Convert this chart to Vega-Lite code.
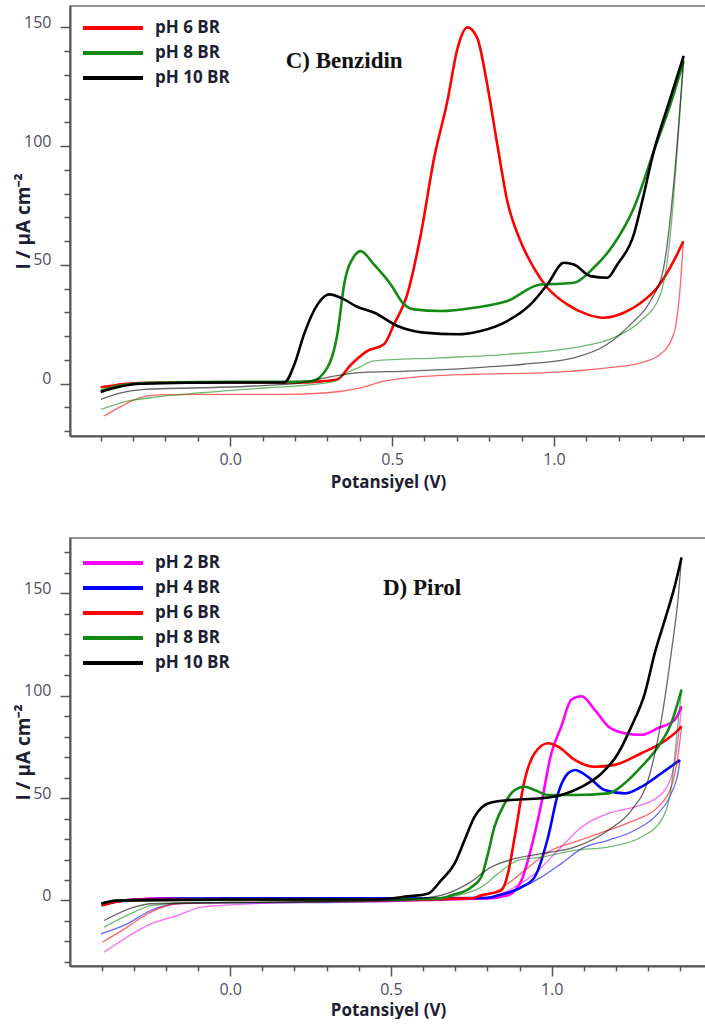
{
  "$schema": "https://vega.github.io/schema/vega-lite/v6.json",
  "padding": {"left": 13, "top": 5, "right": 0, "bottom": 0},
  "background": "white",
  "spacing": 46,
  "datasets": {
    "C": [
      {"pH": "pH 6 BR", "s": "f", "V": -0.40, "I": -1.5},
      {"pH": "pH 6 BR", "s": "f", "V": -0.35, "I": -0.5},
      {"pH": "pH 6 BR", "s": "f", "V": -0.30, "I": 0.2},
      {"pH": "pH 6 BR", "s": "f", "V": -0.20, "I": 0.5},
      {"pH": "pH 6 BR", "s": "f", "V": 0.00, "I": 0.5},
      {"pH": "pH 6 BR", "s": "f", "V": 0.20, "I": 0.5},
      {"pH": "pH 6 BR", "s": "f", "V": 0.28, "I": 1.0},
      {"pH": "pH 6 BR", "s": "f", "V": 0.33, "I": 1.8},
      {"pH": "pH 6 BR", "s": "f", "V": 0.373, "I": 8.0},
      {"pH": "pH 6 BR", "s": "f", "V": 0.424, "I": 13.8},
      {"pH": "pH 6 BR", "s": "f", "V": 0.475, "I": 16.6},
      {"pH": "pH 6 BR", "s": "f", "V": 0.506, "I": 25.0},
      {"pH": "pH 6 BR", "s": "f", "V": 0.547, "I": 37.6},
      {"pH": "pH 6 BR", "s": "f", "V": 0.589, "I": 62.9},
      {"pH": "pH 6 BR", "s": "f", "V": 0.630, "I": 95.0},
      {"pH": "pH 6 BR", "s": "f", "V": 0.671, "I": 119.0},
      {"pH": "pH 6 BR", "s": "f", "V": 0.702, "I": 141.0},
      {"pH": "pH 6 BR", "s": "f", "V": 0.733, "I": 150.0},
      {"pH": "pH 6 BR", "s": "f", "V": 0.763, "I": 145.6},
      {"pH": "pH 6 BR", "s": "f", "V": 0.794, "I": 126.0},
      {"pH": "pH 6 BR", "s": "f", "V": 0.825, "I": 100.8},
      {"pH": "pH 6 BR", "s": "f", "V": 0.856, "I": 76.9},
      {"pH": "pH 6 BR", "s": "f", "V": 0.897, "I": 60.0},
      {"pH": "pH 6 BR", "s": "f", "V": 0.938, "I": 48.8},
      {"pH": "pH 6 BR", "s": "f", "V": 0.980, "I": 40.4},
      {"pH": "pH 6 BR", "s": "f", "V": 1.041, "I": 33.4},
      {"pH": "pH 6 BR", "s": "f", "V": 1.103, "I": 29.2},
      {"pH": "pH 6 BR", "s": "f", "V": 1.154, "I": 27.8},
      {"pH": "pH 6 BR", "s": "f", "V": 1.216, "I": 29.9},
      {"pH": "pH 6 BR", "s": "f", "V": 1.268, "I": 34.0},
      {"pH": "pH 6 BR", "s": "f", "V": 1.319, "I": 40.4},
      {"pH": "pH 6 BR", "s": "f", "V": 1.370, "I": 51.6},
      {"pH": "pH 6 BR", "s": "f", "V": 1.400, "I": 60.0},
      {"pH": "pH 6 BR", "s": "r", "V": 1.400, "I": 60.0},
      {"pH": "pH 6 BR", "s": "r", "V": 1.391, "I": 42.0},
      {"pH": "pH 6 BR", "s": "r", "V": 1.370, "I": 20.8},
      {"pH": "pH 6 BR", "s": "r", "V": 1.329, "I": 12.4},
      {"pH": "pH 6 BR", "s": "r", "V": 1.268, "I": 8.8},
      {"pH": "pH 6 BR", "s": "r", "V": 1.165, "I": 6.7},
      {"pH": "pH 6 BR", "s": "r", "V": 0.959, "I": 4.6},
      {"pH": "pH 6 BR", "s": "r", "V": 0.753, "I": 4.0},
      {"pH": "pH 6 BR", "s": "r", "V": 0.547, "I": 2.5},
      {"pH": "pH 6 BR", "s": "r", "V": 0.475, "I": 1.1},
      {"pH": "pH 6 BR", "s": "r", "V": 0.403, "I": -1.7},
      {"pH": "pH 6 BR", "s": "r", "V": 0.30, "I": -3.8},
      {"pH": "pH 6 BR", "s": "r", "V": 0.167, "I": -4.5},
      {"pH": "pH 6 BR", "s": "r", "V": 0.012, "I": -4.5},
      {"pH": "pH 6 BR", "s": "r", "V": -0.193, "I": -4.6},
      {"pH": "pH 6 BR", "s": "r", "V": -0.25, "I": -5.0},
      {"pH": "pH 6 BR", "s": "r", "V": -0.30, "I": -7.0},
      {"pH": "pH 6 BR", "s": "r", "V": -0.35, "I": -10.5},
      {"pH": "pH 6 BR", "s": "r", "V": -0.389, "I": -13.6},
      {"pH": "pH 8 BR", "s": "f", "V": -0.40, "I": -3.0},
      {"pH": "pH 8 BR", "s": "f", "V": -0.35, "I": -1.0},
      {"pH": "pH 8 BR", "s": "f", "V": -0.30, "I": 0.0},
      {"pH": "pH 8 BR", "s": "f", "V": -0.20, "I": 0.5},
      {"pH": "pH 8 BR", "s": "f", "V": 0.00, "I": 0.8},
      {"pH": "pH 8 BR", "s": "f", "V": 0.20, "I": 0.8},
      {"pH": "pH 8 BR", "s": "f", "V": 0.249, "I": 1.0},
      {"pH": "pH 8 BR", "s": "f", "V": 0.30, "I": 6.7},
      {"pH": "pH 8 BR", "s": "f", "V": 0.331, "I": 20.8},
      {"pH": "pH 8 BR", "s": "f", "V": 0.352, "I": 41.8},
      {"pH": "pH 8 BR", "s": "f", "V": 0.383, "I": 53.7},
      {"pH": "pH 8 BR", "s": "f", "V": 0.403, "I": 55.8},
      {"pH": "pH 8 BR", "s": "f", "V": 0.444, "I": 50.2},
      {"pH": "pH 8 BR", "s": "f", "V": 0.496, "I": 41.8},
      {"pH": "pH 8 BR", "s": "f", "V": 0.537, "I": 33.4},
      {"pH": "pH 8 BR", "s": "f", "V": 0.568, "I": 31.3},
      {"pH": "pH 8 BR", "s": "f", "V": 0.650, "I": 30.6},
      {"pH": "pH 8 BR", "s": "f", "V": 0.753, "I": 32.0},
      {"pH": "pH 8 BR", "s": "f", "V": 0.856, "I": 34.8},
      {"pH": "pH 8 BR", "s": "f", "V": 0.959, "I": 41.8},
      {"pH": "pH 8 BR", "s": "f", "V": 1.010, "I": 42.0},
      {"pH": "pH 8 BR", "s": "f", "V": 1.062, "I": 42.5},
      {"pH": "pH 8 BR", "s": "f", "V": 1.123, "I": 48.8},
      {"pH": "pH 8 BR", "s": "f", "V": 1.185, "I": 58.7},
      {"pH": "pH 8 BR", "s": "f", "V": 1.247, "I": 74.0},
      {"pH": "pH 8 BR", "s": "f", "V": 1.309, "I": 98.0},
      {"pH": "pH 8 BR", "s": "f", "V": 1.360, "I": 117.6},
      {"pH": "pH 8 BR", "s": "f", "V": 1.401, "I": 135.8},
      {"pH": "pH 8 BR", "s": "r", "V": 1.401, "I": 135.8},
      {"pH": "pH 8 BR", "s": "r", "V": 1.381, "I": 98.0},
      {"pH": "pH 8 BR", "s": "r", "V": 1.360, "I": 62.9},
      {"pH": "pH 8 BR", "s": "r", "V": 1.329, "I": 37.6},
      {"pH": "pH 8 BR", "s": "r", "V": 1.268, "I": 26.4},
      {"pH": "pH 8 BR", "s": "r", "V": 1.185, "I": 19.4},
      {"pH": "pH 8 BR", "s": "r", "V": 1.062, "I": 15.2},
      {"pH": "pH 8 BR", "s": "r", "V": 0.856, "I": 12.4},
      {"pH": "pH 8 BR", "s": "r", "V": 0.650, "I": 10.9},
      {"pH": "pH 8 BR", "s": "r", "V": 0.444, "I": 9.6},
      {"pH": "pH 8 BR", "s": "r", "V": 0.400, "I": 7.0},
      {"pH": "pH 8 BR", "s": "r", "V": 0.360, "I": 4.5},
      {"pH": "pH 8 BR", "s": "r", "V": 0.321, "I": 1.0},
      {"pH": "pH 8 BR", "s": "r", "V": 0.200, "I": -1.0},
      {"pH": "pH 8 BR", "s": "r", "V": 0.115, "I": -1.7},
      {"pH": "pH 8 BR", "s": "r", "V": -0.09, "I": -3.8},
      {"pH": "pH 8 BR", "s": "r", "V": -0.245, "I": -5.9},
      {"pH": "pH 8 BR", "s": "r", "V": -0.317, "I": -7.3},
      {"pH": "pH 8 BR", "s": "r", "V": -0.399, "I": -10.8},
      {"pH": "pH 10 BR", "s": "f", "V": -0.40, "I": -3.5},
      {"pH": "pH 10 BR", "s": "f", "V": -0.35, "I": -1.5},
      {"pH": "pH 10 BR", "s": "f", "V": -0.275, "I": 0.0},
      {"pH": "pH 10 BR", "s": "f", "V": 0.00, "I": 0.5},
      {"pH": "pH 10 BR", "s": "f", "V": 0.167, "I": 0.5},
      {"pH": "pH 10 BR", "s": "f", "V": 0.198, "I": 8.0},
      {"pH": "pH 10 BR", "s": "f", "V": 0.228, "I": 20.8},
      {"pH": "pH 10 BR", "s": "f", "V": 0.270, "I": 33.4},
      {"pH": "pH 10 BR", "s": "f", "V": 0.306, "I": 37.6},
      {"pH": "pH 10 BR", "s": "f", "V": 0.352, "I": 35.5},
      {"pH": "pH 10 BR", "s": "f", "V": 0.390, "I": 32.5},
      {"pH": "pH 10 BR", "s": "f", "V": 0.444, "I": 30.0},
      {"pH": "pH 10 BR", "s": "f", "V": 0.517, "I": 24.3},
      {"pH": "pH 10 BR", "s": "f", "V": 0.599, "I": 21.5},
      {"pH": "pH 10 BR", "s": "f", "V": 0.702, "I": 20.8},
      {"pH": "pH 10 BR", "s": "f", "V": 0.774, "I": 22.2},
      {"pH": "pH 10 BR", "s": "f", "V": 0.856, "I": 26.4},
      {"pH": "pH 10 BR", "s": "f", "V": 0.928, "I": 33.4},
      {"pH": "pH 10 BR", "s": "f", "V": 0.980, "I": 41.8},
      {"pH": "pH 10 BR", "s": "f", "V": 1.031, "I": 50.9},
      {"pH": "pH 10 BR", "s": "f", "V": 1.062, "I": 50.2},
      {"pH": "pH 10 BR", "s": "f", "V": 1.113, "I": 45.3},
      {"pH": "pH 10 BR", "s": "f", "V": 1.165, "I": 44.6},
      {"pH": "pH 10 BR", "s": "f", "V": 1.196, "I": 50.2},
      {"pH": "pH 10 BR", "s": "f", "V": 1.247, "I": 62.9},
      {"pH": "pH 10 BR", "s": "f", "V": 1.273, "I": 76.9},
      {"pH": "pH 10 BR", "s": "f", "V": 1.309, "I": 98.0},
      {"pH": "pH 10 BR", "s": "f", "V": 1.350, "I": 116.0},
      {"pH": "pH 10 BR", "s": "f", "V": 1.401, "I": 138.0},
      {"pH": "pH 10 BR", "s": "r", "V": 1.401, "I": 138.0},
      {"pH": "pH 10 BR", "s": "r", "V": 1.391, "I": 119.0},
      {"pH": "pH 10 BR", "s": "r", "V": 1.370, "I": 83.9},
      {"pH": "pH 10 BR", "s": "r", "V": 1.339, "I": 48.8},
      {"pH": "pH 10 BR", "s": "r", "V": 1.298, "I": 34.8},
      {"pH": "pH 10 BR", "s": "r", "V": 1.237, "I": 25.0},
      {"pH": "pH 10 BR", "s": "r", "V": 1.165, "I": 16.6},
      {"pH": "pH 10 BR", "s": "r", "V": 1.062, "I": 10.9},
      {"pH": "pH 10 BR", "s": "r", "V": 0.907, "I": 8.2},
      {"pH": "pH 10 BR", "s": "r", "V": 0.753, "I": 6.7},
      {"pH": "pH 10 BR", "s": "r", "V": 0.547, "I": 5.3},
      {"pH": "pH 10 BR", "s": "r", "V": 0.393, "I": 4.6},
      {"pH": "pH 10 BR", "s": "r", "V": 0.321, "I": 3.2},
      {"pH": "pH 10 BR", "s": "r", "V": 0.219, "I": 0.4},
      {"pH": "pH 10 BR", "s": "r", "V": 0.10, "I": -0.8},
      {"pH": "pH 10 BR", "s": "r", "V": -0.09, "I": -1.7},
      {"pH": "pH 10 BR", "s": "r", "V": -0.265, "I": -2.4},
      {"pH": "pH 10 BR", "s": "r", "V": -0.348, "I": -4.2},
      {"pH": "pH 10 BR", "s": "r", "V": -0.399, "I": -6.6}
    ],
    "D": [
      {"pH": "pH 2 BR", "s": "f", "V": -0.40, "I": -2.0},
      {"pH": "pH 2 BR", "s": "f", "V": -0.35, "I": -0.5},
      {"pH": "pH 2 BR", "s": "f", "V": -0.30, "I": 0.3},
      {"pH": "pH 2 BR", "s": "f", "V": -0.20, "I": 1.0},
      {"pH": "pH 2 BR", "s": "f", "V": 0.00, "I": 0.5},
      {"pH": "pH 2 BR", "s": "f", "V": 0.50, "I": 0.5},
      {"pH": "pH 2 BR", "s": "f", "V": 0.80, "I": 1.0},
      {"pH": "pH 2 BR", "s": "f", "V": 0.864, "I": 2.5},
      {"pH": "pH 2 BR", "s": "f", "V": 0.906, "I": 9.8},
      {"pH": "pH 2 BR", "s": "f", "V": 0.937, "I": 26.0},
      {"pH": "pH 2 BR", "s": "f", "V": 0.968, "I": 47.4},
      {"pH": "pH 2 BR", "s": "f", "V": 0.999, "I": 71.9},
      {"pH": "pH 2 BR", "s": "f", "V": 1.030, "I": 85.0},
      {"pH": "pH 2 BR", "s": "f", "V": 1.061, "I": 98.0},
      {"pH": "pH 2 BR", "s": "f", "V": 1.093, "I": 99.7},
      {"pH": "pH 2 BR", "s": "f", "V": 1.134, "I": 93.1},
      {"pH": "pH 2 BR", "s": "f", "V": 1.176, "I": 85.0},
      {"pH": "pH 2 BR", "s": "f", "V": 1.227, "I": 81.7},
      {"pH": "pH 2 BR", "s": "f", "V": 1.279, "I": 80.9},
      {"pH": "pH 2 BR", "s": "f", "V": 1.331, "I": 84.2},
      {"pH": "pH 2 BR", "s": "f", "V": 1.383, "I": 88.2},
      {"pH": "pH 2 BR", "s": "f", "V": 1.404, "I": 94.8},
      {"pH": "pH 2 BR", "s": "r", "V": 1.404, "I": 94.8},
      {"pH": "pH 2 BR", "s": "r", "V": 1.394, "I": 80.0},
      {"pH": "pH 2 BR", "s": "r", "V": 1.372, "I": 60.4},
      {"pH": "pH 2 BR", "s": "r", "V": 1.331, "I": 50.6},
      {"pH": "pH 2 BR", "s": "r", "V": 1.259, "I": 45.7},
      {"pH": "pH 2 BR", "s": "r", "V": 1.176, "I": 42.5},
      {"pH": "pH 2 BR", "s": "r", "V": 1.093, "I": 35.9},
      {"pH": "pH 2 BR", "s": "r", "V": 1.020, "I": 24.5},
      {"pH": "pH 2 BR", "s": "r", "V": 0.947, "I": 13.1},
      {"pH": "pH 2 BR", "s": "r", "V": 0.885, "I": 6.5},
      {"pH": "pH 2 BR", "s": "r", "V": 0.833, "I": 2.5},
      {"pH": "pH 2 BR", "s": "r", "V": 0.75, "I": 0.5},
      {"pH": "pH 2 BR", "s": "r", "V": 0.50, "I": -0.5},
      {"pH": "pH 2 BR", "s": "r", "V": 0.20, "I": -1.0},
      {"pH": "pH 2 BR", "s": "r", "V": 0.013, "I": -2.0},
      {"pH": "pH 2 BR", "s": "r", "V": -0.091, "I": -3.3},
      {"pH": "pH 2 BR", "s": "r", "V": -0.164, "I": -7.4},
      {"pH": "pH 2 BR", "s": "r", "V": -0.247, "I": -11.4},
      {"pH": "pH 2 BR", "s": "r", "V": -0.330, "I": -18.8},
      {"pH": "pH 2 BR", "s": "r", "V": -0.392, "I": -25.3},
      {"pH": "pH 4 BR", "s": "f", "V": -0.40, "I": -2.0},
      {"pH": "pH 4 BR", "s": "f", "V": -0.35, "I": -0.5},
      {"pH": "pH 4 BR", "s": "f", "V": -0.30, "I": 0.5},
      {"pH": "pH 4 BR", "s": "f", "V": 0.00, "I": 1.0},
      {"pH": "pH 4 BR", "s": "f", "V": 0.50, "I": 1.0},
      {"pH": "pH 4 BR", "s": "f", "V": 0.80, "I": 1.2},
      {"pH": "pH 4 BR", "s": "f", "V": 0.833, "I": 2.5},
      {"pH": "pH 4 BR", "s": "f", "V": 0.906, "I": 6.5},
      {"pH": "pH 4 BR", "s": "f", "V": 0.947, "I": 11.4},
      {"pH": "pH 4 BR", "s": "f", "V": 0.989, "I": 31.0},
      {"pH": "pH 4 BR", "s": "f", "V": 1.020, "I": 52.3},
      {"pH": "pH 4 BR", "s": "f", "V": 1.051, "I": 62.1},
      {"pH": "pH 4 BR", "s": "f", "V": 1.072, "I": 63.7},
      {"pH": "pH 4 BR", "s": "f", "V": 1.113, "I": 60.4},
      {"pH": "pH 4 BR", "s": "f", "V": 1.165, "I": 53.9},
      {"pH": "pH 4 BR", "s": "f", "V": 1.227, "I": 52.3},
      {"pH": "pH 4 BR", "s": "f", "V": 1.279, "I": 55.5},
      {"pH": "pH 4 BR", "s": "f", "V": 1.341, "I": 62.1},
      {"pH": "pH 4 BR", "s": "f", "V": 1.399, "I": 68.6},
      {"pH": "pH 4 BR", "s": "r", "V": 1.399, "I": 68.6},
      {"pH": "pH 4 BR", "s": "r", "V": 1.395, "I": 64.0},
      {"pH": "pH 4 BR", "s": "r", "V": 1.372, "I": 52.3},
      {"pH": "pH 4 BR", "s": "r", "V": 1.331, "I": 42.5},
      {"pH": "pH 4 BR", "s": "r", "V": 1.259, "I": 34.3},
      {"pH": "pH 4 BR", "s": "r", "V": 1.176, "I": 29.4},
      {"pH": "pH 4 BR", "s": "r", "V": 1.093, "I": 25.3},
      {"pH": "pH 4 BR", "s": "r", "V": 1.030, "I": 18.0},
      {"pH": "pH 4 BR", "s": "r", "V": 0.968, "I": 11.4},
      {"pH": "pH 4 BR", "s": "r", "V": 0.885, "I": 4.9},
      {"pH": "pH 4 BR", "s": "r", "V": 0.82, "I": 2.0},
      {"pH": "pH 4 BR", "s": "r", "V": 0.60, "I": 0.0},
      {"pH": "pH 4 BR", "s": "r", "V": 0.30, "I": -1.0},
      {"pH": "pH 4 BR", "s": "r", "V": 0.00, "I": -1.2},
      {"pH": "pH 4 BR", "s": "r", "V": -0.164, "I": -1.6},
      {"pH": "pH 4 BR", "s": "r", "V": -0.247, "I": -4.9},
      {"pH": "pH 4 BR", "s": "r", "V": -0.320, "I": -11.4},
      {"pH": "pH 4 BR", "s": "r", "V": -0.402, "I": -16.3},
      {"pH": "pH 6 BR", "s": "f", "V": -0.40, "I": -2.5},
      {"pH": "pH 6 BR", "s": "f", "V": -0.35, "I": -0.5},
      {"pH": "pH 6 BR", "s": "f", "V": -0.30, "I": 0.3},
      {"pH": "pH 6 BR", "s": "f", "V": 0.00, "I": 0.5},
      {"pH": "pH 6 BR", "s": "f", "V": 0.50, "I": 0.5},
      {"pH": "pH 6 BR", "s": "f", "V": 0.75, "I": 1.0},
      {"pH": "pH 6 BR", "s": "f", "V": 0.781, "I": 2.5},
      {"pH": "pH 6 BR", "s": "f", "V": 0.843, "I": 4.9},
      {"pH": "pH 6 BR", "s": "f", "V": 0.864, "I": 13.1},
      {"pH": "pH 6 BR", "s": "f", "V": 0.885, "I": 31.0},
      {"pH": "pH 6 BR", "s": "f", "V": 0.916, "I": 58.8},
      {"pH": "pH 6 BR", "s": "f", "V": 0.947, "I": 71.9},
      {"pH": "pH 6 BR", "s": "f", "V": 0.989, "I": 76.8},
      {"pH": "pH 6 BR", "s": "f", "V": 1.020, "I": 75.1},
      {"pH": "pH 6 BR", "s": "f", "V": 1.072, "I": 68.6},
      {"pH": "pH 6 BR", "s": "f", "V": 1.134, "I": 65.3},
      {"pH": "pH 6 BR", "s": "f", "V": 1.196, "I": 66.2},
      {"pH": "pH 6 BR", "s": "f", "V": 1.279, "I": 71.9},
      {"pH": "pH 6 BR", "s": "f", "V": 1.341, "I": 76.8},
      {"pH": "pH 6 BR", "s": "f", "V": 1.394, "I": 83.3},
      {"pH": "pH 6 BR", "s": "f", "V": 1.404, "I": 85.0},
      {"pH": "pH 6 BR", "s": "r", "V": 1.404, "I": 85.0},
      {"pH": "pH 6 BR", "s": "r", "V": 1.394, "I": 71.9},
      {"pH": "pH 6 BR", "s": "r", "V": 1.372, "I": 55.5},
      {"pH": "pH 6 BR", "s": "r", "V": 1.331, "I": 45.7},
      {"pH": "pH 6 BR", "s": "r", "V": 1.259, "I": 39.2},
      {"pH": "pH 6 BR", "s": "r", "V": 1.176, "I": 34.3},
      {"pH": "pH 6 BR", "s": "r", "V": 1.072, "I": 28.6},
      {"pH": "pH 6 BR", "s": "r", "V": 0.999, "I": 24.5},
      {"pH": "pH 6 BR", "s": "r", "V": 0.916, "I": 14.7},
      {"pH": "pH 6 BR", "s": "r", "V": 0.864, "I": 8.2},
      {"pH": "pH 6 BR", "s": "r", "V": 0.812, "I": 3.3},
      {"pH": "pH 6 BR", "s": "r", "V": 0.70, "I": 0.5},
      {"pH": "pH 6 BR", "s": "r", "V": 0.40, "I": -0.5},
      {"pH": "pH 6 BR", "s": "r", "V": 0.00, "I": -1.0},
      {"pH": "pH 6 BR", "s": "r", "V": -0.164, "I": -1.6},
      {"pH": "pH 6 BR", "s": "r", "V": -0.247, "I": -5.7},
      {"pH": "pH 6 BR", "s": "r", "V": -0.320, "I": -13.0},
      {"pH": "pH 6 BR", "s": "r", "V": -0.397, "I": -20.4},
      {"pH": "pH 8 BR", "s": "f", "V": -0.40, "I": -1.5},
      {"pH": "pH 8 BR", "s": "f", "V": -0.35, "I": 0.0},
      {"pH": "pH 8 BR", "s": "f", "V": 0.00, "I": 0.5},
      {"pH": "pH 8 BR", "s": "f", "V": 0.50, "I": 0.5},
      {"pH": "pH 8 BR", "s": "f", "V": 0.65, "I": 1.0},
      {"pH": "pH 8 BR", "s": "f", "V": 0.688, "I": 2.5},
      {"pH": "pH 8 BR", "s": "f", "V": 0.750, "I": 6.5},
      {"pH": "pH 8 BR", "s": "f", "V": 0.781, "I": 11.4},
      {"pH": "pH 8 BR", "s": "f", "V": 0.802, "I": 22.9},
      {"pH": "pH 8 BR", "s": "f", "V": 0.822, "I": 35.9},
      {"pH": "pH 8 BR", "s": "f", "V": 0.854, "I": 47.4},
      {"pH": "pH 8 BR", "s": "f", "V": 0.885, "I": 53.9},
      {"pH": "pH 8 BR", "s": "f", "V": 0.916, "I": 55.5},
      {"pH": "pH 8 BR", "s": "f", "V": 0.947, "I": 53.9},
      {"pH": "pH 8 BR", "s": "f", "V": 0.989, "I": 51.5},
      {"pH": "pH 8 BR", "s": "f", "V": 1.072, "I": 51.5},
      {"pH": "pH 8 BR", "s": "f", "V": 1.176, "I": 52.3},
      {"pH": "pH 8 BR", "s": "f", "V": 1.227, "I": 57.2},
      {"pH": "pH 8 BR", "s": "f", "V": 1.279, "I": 65.3},
      {"pH": "pH 8 BR", "s": "f", "V": 1.331, "I": 75.1},
      {"pH": "pH 8 BR", "s": "f", "V": 1.372, "I": 86.6},
      {"pH": "pH 8 BR", "s": "f", "V": 1.404, "I": 103.0},
      {"pH": "pH 8 BR", "s": "r", "V": 1.404, "I": 103.0},
      {"pH": "pH 8 BR", "s": "r", "V": 1.394, "I": 88.2},
      {"pH": "pH 8 BR", "s": "r", "V": 1.372, "I": 55.5},
      {"pH": "pH 8 BR", "s": "r", "V": 1.341, "I": 39.2},
      {"pH": "pH 8 BR", "s": "r", "V": 1.279, "I": 31.0},
      {"pH": "pH 8 BR", "s": "r", "V": 1.176, "I": 26.1},
      {"pH": "pH 8 BR", "s": "r", "V": 1.072, "I": 24.5},
      {"pH": "pH 8 BR", "s": "r", "V": 0.968, "I": 21.2},
      {"pH": "pH 8 BR", "s": "r", "V": 0.895, "I": 19.6},
      {"pH": "pH 8 BR", "s": "r", "V": 0.833, "I": 13.1},
      {"pH": "pH 8 BR", "s": "r", "V": 0.781, "I": 6.5},
      {"pH": "pH 8 BR", "s": "r", "V": 0.708, "I": 2.5},
      {"pH": "pH 8 BR", "s": "r", "V": 0.60, "I": 0.5},
      {"pH": "pH 8 BR", "s": "r", "V": 0.30, "I": -0.5},
      {"pH": "pH 8 BR", "s": "r", "V": 0.00, "I": -1.0},
      {"pH": "pH 8 BR", "s": "r", "V": -0.09, "I": -0.8},
      {"pH": "pH 8 BR", "s": "r", "V": -0.247, "I": -2.5},
      {"pH": "pH 8 BR", "s": "r", "V": -0.299, "I": -5.7},
      {"pH": "pH 8 BR", "s": "r", "V": -0.392, "I": -13.0},
      {"pH": "pH 10 BR", "s": "f", "V": -0.40, "I": -1.5},
      {"pH": "pH 10 BR", "s": "f", "V": -0.35, "I": 0.0},
      {"pH": "pH 10 BR", "s": "f", "V": 0.00, "I": 0.5},
      {"pH": "pH 10 BR", "s": "f", "V": 0.45, "I": 0.5},
      {"pH": "pH 10 BR", "s": "f", "V": 0.553, "I": 2.0},
      {"pH": "pH 10 BR", "s": "f", "V": 0.615, "I": 3.3},
      {"pH": "pH 10 BR", "s": "f", "V": 0.656, "I": 9.8},
      {"pH": "pH 10 BR", "s": "f", "V": 0.698, "I": 18.0},
      {"pH": "pH 10 BR", "s": "f", "V": 0.729, "I": 29.4},
      {"pH": "pH 10 BR", "s": "f", "V": 0.760, "I": 40.8},
      {"pH": "pH 10 BR", "s": "f", "V": 0.802, "I": 47.4},
      {"pH": "pH 10 BR", "s": "f", "V": 0.864, "I": 49.0},
      {"pH": "pH 10 BR", "s": "f", "V": 0.968, "I": 49.9},
      {"pH": "pH 10 BR", "s": "f", "V": 1.030, "I": 51.5},
      {"pH": "pH 10 BR", "s": "f", "V": 1.093, "I": 55.5},
      {"pH": "pH 10 BR", "s": "f", "V": 1.155, "I": 62.0},
      {"pH": "pH 10 BR", "s": "f", "V": 1.207, "I": 71.9},
      {"pH": "pH 10 BR", "s": "f", "V": 1.248, "I": 85.0},
      {"pH": "pH 10 BR", "s": "f", "V": 1.290, "I": 101.3},
      {"pH": "pH 10 BR", "s": "f", "V": 1.321, "I": 121.0},
      {"pH": "pH 10 BR", "s": "f", "V": 1.352, "I": 137.0},
      {"pH": "pH 10 BR", "s": "f", "V": 1.383, "I": 153.6},
      {"pH": "pH 10 BR", "s": "f", "V": 1.404, "I": 167.5},
      {"pH": "pH 10 BR", "s": "r", "V": 1.404, "I": 167.5},
      {"pH": "pH 10 BR", "s": "r", "V": 1.394, "I": 148.7},
      {"pH": "pH 10 BR", "s": "r", "V": 1.372, "I": 121.0},
      {"pH": "pH 10 BR", "s": "r", "V": 1.341, "I": 88.0},
      {"pH": "pH 10 BR", "s": "r", "V": 1.300, "I": 58.8},
      {"pH": "pH 10 BR", "s": "r", "V": 1.248, "I": 44.0},
      {"pH": "pH 10 BR", "s": "r", "V": 1.176, "I": 34.3},
      {"pH": "pH 10 BR", "s": "r", "V": 1.072, "I": 26.0},
      {"pH": "pH 10 BR", "s": "r", "V": 0.968, "I": 22.9},
      {"pH": "pH 10 BR", "s": "r", "V": 0.885, "I": 20.4},
      {"pH": "pH 10 BR", "s": "r", "V": 0.812, "I": 16.3},
      {"pH": "pH 10 BR", "s": "r", "V": 0.740, "I": 8.2},
      {"pH": "pH 10 BR", "s": "r", "V": 0.656, "I": 2.5},
      {"pH": "pH 10 BR", "s": "r", "V": 0.55, "I": 0.5},
      {"pH": "pH 10 BR", "s": "r", "V": 0.30, "I": -0.5},
      {"pH": "pH 10 BR", "s": "r", "V": 0.00, "I": -1.0},
      {"pH": "pH 10 BR", "s": "r", "V": -0.247, "I": -1.6},
      {"pH": "pH 10 BR", "s": "r", "V": -0.299, "I": -3.3},
      {"pH": "pH 10 BR", "s": "r", "V": -0.392, "I": -9.8}
    ]
  },
  "config": {
    "font": "Open Sans",
    "view": {"stroke": "#707070", "strokeWidth": 1.5},
    "axis": {
      "grid": false,
      "labelOverlap": false,
      "domainColor": "#555555",
      "domainWidth": 2,
      "tickColor": "#555555",
      "tickWidth": 1.5,
      "labelFont": "Open Sans",
      "labelFontSize": 16,
      "labelColor": "#4d5068",
      "titleFont": "Open Sans",
      "titleFontWeight": "bold",
      "titleFontSize": 17,
      "titleColor": "#1c1f33"
    },
    "legend": {
      "orient": "none",
      "symbolType": "M-3,0H3",
      "symbolSize": 400,
      "symbolStrokeWidth": 4,
      "labelFont": "Open Sans",
      "labelFontWeight": "bold",
      "labelFontSize": 17,
      "labelColor": "#1c1f33",
      "labelOffset": 30,
      "rowPadding": 5
    }
  },
  "resolve": {
    "scale": {"color": "independent", "x": "independent", "y": "independent"},
    "legend": {"color": "independent"}
  },
  "vconcat": [
    {
      "width": 636,
      "height": 430,
      "encoding": {
        "x": {"field": "V", "type": "quantitative",
          "scale": {"domain": [-0.495, 1.47], "nice": false, "zero": false},
          "axis": {
            "title": "Potansiyel (V)",
            "labelOverlap": false,
            "values": [-0.4, -0.3, -0.2, -0.1, 0, 0.1, 0.2, 0.3, 0.4, 0.5, 0.6, 0.7, 0.8, 0.9, 1.0, 1.1, 1.2, 1.3, 1.4],
            "labelExpr": "abs(datum.value*2 - round(datum.value*2)) < 0.001 ? format(datum.value, '.1f') : ''",
            "tickSize": {"condition": {"test": "abs(datum.value*2 - round(datum.value*2)) < 0.001", "value": 10}, "value": 5},
            "labelPadding": 5,
            "titleY": 38,
            "titleBaseline": "top"
          }},
        "y": {"field": "I", "type": "quantitative",
          "scale": {"domain": [-22, 159], "nice": false, "zero": false},
          "axis": {
            "title": "I / μA cm⁻²",
            "titleFontSize": 19,
            "labelOverlap": false,
            "values": [-20, -10, 0, 10, 20, 30, 40, 50, 60, 70, 80, 90, 100, 110, 120, 130, 140, 150],
            "labelExpr": "datum.value % 50 === 0 ? datum.label : ''",
            "tickSize": {"condition": {"test": "datum.value % 50 === 0", "value": 10}, "value": 6},
            "labelPadding": 9,
            "labelBaseline": "alphabetic",
            "titleX": -37
          }}
      },
      "layer": [
        {
          "data": {"name": "C"},
          "mark": {"type": "line", "interpolate": "monotone"},
          "encoding": {
            "color": {"field": "pH", "type": "nominal",
              "scale": {"domain": ["pH 6 BR", "pH 8 BR", "pH 10 BR"], "range": ["#ff0000", "#138a13", "#000000"]},
              "legend": {"title": null, "legendX": 31, "legendY": 10}},
            "detail": {"field": "s"},
            "strokeWidth": {"field": "s", "type": "nominal", "scale": {"domain": ["f", "r"], "range": [2.6, 1.3]}, "legend": null},
            "opacity": {"field": "s", "type": "nominal", "scale": {"domain": ["f", "r"], "range": [1, 0.6]}, "legend": null}
          }
        },
        {
          "data": {"values": [{"V": 0.352, "I": 135.8, "t": "C) Benzidin"}]},
          "mark": {"type": "text", "font": "Liberation Serif", "fontWeight": "bold", "fontSize": 23, "color": "#111111", "align": "center", "baseline": "middle"},
          "encoding": {
            "text": {"field": "t"}
          }
        }
      ]
    },
    {
      "width": 636,
      "height": 428,
      "encoding": {
        "x": {"field": "V", "type": "quantitative",
          "scale": {"domain": [-0.498, 1.48], "nice": false, "zero": false},
          "axis": {
            "title": "Potansiyel (V)",
            "labelOverlap": false,
            "values": [-0.4, -0.3, -0.2, -0.1, 0, 0.1, 0.2, 0.3, 0.4, 0.5, 0.6, 0.7, 0.8, 0.9, 1.0, 1.1, 1.2, 1.3, 1.4],
            "labelExpr": "abs(datum.value*2 - round(datum.value*2)) < 0.001 ? format(datum.value, '.1f') : ''",
            "tickSize": {"condition": {"test": "abs(datum.value*2 - round(datum.value*2)) < 0.001", "value": 10}, "value": 5},
            "labelPadding": 5,
            "titleY": 36,
            "titleBaseline": "top"
          }},
        "y": {"field": "I", "type": "quantitative",
          "scale": {"domain": [-32, 177], "nice": false, "zero": false},
          "axis": {
            "title": "I / μA cm⁻²",
            "titleFontSize": 19,
            "labelOverlap": false,
            "values": [-30, -20, -10, 0, 10, 20, 30, 40, 50, 60, 70, 80, 90, 100, 110, 120, 130, 140, 150, 160, 170],
            "labelExpr": "datum.value % 50 === 0 ? datum.label : ''",
            "tickSize": {"condition": {"test": "datum.value % 50 === 0", "value": 10}, "value": 6},
            "labelPadding": 9,
            "labelBaseline": "alphabetic",
            "titleX": -37
          }}
      },
      "layer": [
        {
          "data": {"name": "D"},
          "mark": {"type": "line", "interpolate": "monotone"},
          "encoding": {
            "color": {"field": "pH", "type": "nominal",
              "scale": {"domain": ["pH 2 BR", "pH 4 BR", "pH 6 BR", "pH 8 BR", "pH 10 BR"], "range": ["#ff00ff", "#0000ff", "#ff0000", "#138a13", "#000000"]},
              "legend": {"title": null, "legendX": 31, "legendY": 13}},
            "detail": {"field": "s"},
            "strokeWidth": {"field": "s", "type": "nominal", "scale": {"domain": ["f", "r"], "range": [2.6, 1.3]}, "legend": null},
            "opacity": {"field": "s", "type": "nominal", "scale": {"domain": ["f", "r"], "range": [1, 0.6]}, "legend": null}
          }
        },
        {
          "data": {"values": [{"V": 0.597, "I": 152.5, "t": "D) Pirol"}]},
          "mark": {"type": "text", "font": "Liberation Serif", "fontWeight": "bold", "fontSize": 23, "color": "#111111", "align": "center", "baseline": "middle"},
          "encoding": {
            "text": {"field": "t"}
          }
        }
      ]
    }
  ]
}
